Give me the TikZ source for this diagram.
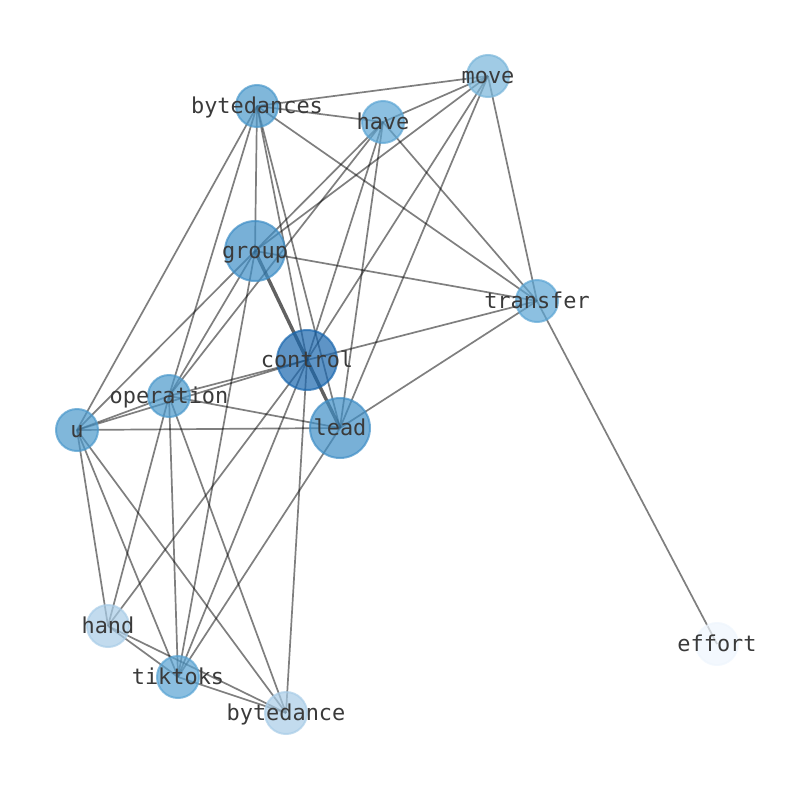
\documentclass[tikz,border=0pt]{standalone}
\usepackage{fontspec}
\newfontfamily\monofont{DejaVu Sans Mono}
\definecolor{cA}{HTML}{1A67AE}
\definecolor{cB}{HTML}{3F8EC6}
\definecolor{cC}{HTML}{4A98CB}
\definecolor{cD}{HTML}{58A3D3}
\definecolor{cE}{HTML}{5BA5D4}
\definecolor{cF}{HTML}{78B5DA}
\definecolor{cG}{HTML}{A8CCE7}
\definecolor{cH}{HTML}{EEF5FD}
\definecolor{edgegray}{HTML}{000000}
\definecolor{lblcol}{HTML}{3A3A3A}
\tikzset{
  edge/.style={draw=edgegray, draw opacity=0.5, line width=1.7pt},
  heavyedge/.style={draw=edgegray, draw opacity=0.62, line width=3.4pt},
  smallnode/.style={circle, inner sep=0pt, minimum size=42pt, line width=2pt, opacity=0.7},
  bignode/.style={circle, inner sep=0pt, minimum size=60pt, line width=2pt, opacity=0.7},
  lbl/.style={anchor=base, inner sep=0pt, text=lblcol, font=\monofont\fontsize{21.9}{26}\selectfont}
}
\begin{document}
\begin{tikzpicture}[x=1pt,y=-1pt]
\useasboundingbox (0,0) rectangle (794,790);
% positions
\coordinate (move) at (488,76);
\coordinate (bytedances) at (257,106);
\coordinate (have) at (383,122);
\coordinate (group) at (255,251);
\coordinate (transfer) at (537,301);
\coordinate (control) at (307,360);
\coordinate (operation) at (169,396);
\coordinate (u) at (77,430);
\coordinate (lead) at (340,428);
\coordinate (hand) at (108,626);
\coordinate (effort) at (717,644);
\coordinate (tiktoks) at (178,677);
\coordinate (bytedance) at (286,713);
% edges
\draw[edge] (bytedances) -- (move);
\draw[edge] (bytedances) -- (have);
\draw[edge] (bytedances) -- (transfer);
\draw[edge] (bytedances) -- (u);
\draw[edge] (bytedances) -- (operation);
\draw[edge] (bytedances) -- (group);
\draw[edge] (bytedances) -- (control);
\draw[edge] (bytedances) -- (lead);
\draw[edge] (move) -- (have);
\draw[edge] (move) -- (group);
\draw[edge] (move) -- (control);
\draw[edge] (move) -- (lead);
\draw[edge] (move) -- (transfer);
\draw[edge] (have) -- (group);
\draw[edge] (group) -- (u);
\draw[edge] (have) -- (operation);
\draw[edge] (have) -- (control);
\draw[edge] (have) -- (lead);
\draw[edge] (have) -- (transfer);
\draw[edge] (group) -- (transfer);
\draw[edge] (group) -- (operation);
\draw[edge] (group) -- (tiktoks);
\draw[edge] (transfer) -- (control);
\draw[edge] (transfer) -- (lead);
\draw[edge] (transfer) -- (effort);
\draw[edge] (control) -- (operation);
\draw[edge] (control) -- (u);
\draw[edge] (control) -- (hand);
\draw[edge] (control) -- (tiktoks);
\draw[edge] (control) -- (bytedance);
\draw[edge] (operation) -- (u);
\draw[edge] (operation) -- (lead);
\draw[edge] (operation) -- (hand);
\draw[edge] (operation) -- (tiktoks);
\draw[edge] (operation) -- (bytedance);
\draw[edge] (u) -- (lead);
\draw[edge] (u) -- (hand);
\draw[edge] (u) -- (tiktoks);
\draw[edge] (u) -- (bytedance);
\draw[edge] (lead) -- (tiktoks);
\draw[edge] (hand) -- (tiktoks);
\draw[edge] (hand) -- (bytedance);
\draw[edge] (tiktoks) -- (bytedance);
\draw[heavyedge] (group) -- (control);
\draw[heavyedge] (control) -- (lead);
% nodes
\node[smallnode, fill=cF, draw=cF] (n-move) at (move) {};
\node[smallnode, fill=cC, draw=cC] (n-bytedances) at (bytedances) {};
\node[smallnode, fill=cE, draw=cE] (n-have) at (have) {};
\node[bignode, fill=cB, draw=cB] (n-group) at (group) {};
\node[smallnode, fill=cE, draw=cE] (n-transfer) at (transfer) {};
\node[bignode, fill=cA, draw=cA] (n-control) at (control) {};
\node[smallnode, fill=cC, draw=cC] (n-operation) at (operation) {};
\node[smallnode, fill=cC, draw=cC] (n-u) at (u) {};
\node[bignode, fill=cB, draw=cB] (n-lead) at (lead) {};
\node[smallnode, fill=cG, draw=cG] (n-hand) at (hand) {};
\node[smallnode, fill=cH, draw=cH] (n-effort) at (effort) {};
\node[smallnode, fill=cD, draw=cD] (n-tiktoks) at (tiktoks) {};
\node[smallnode, fill=cG, draw=cG] (n-bytedance) at (bytedance) {};
% labels
\node[lbl] (t-move) at ([yshift=-7.5pt]move) {move};
\node[lbl] (t-bytedances) at ([yshift=-7.5pt]bytedances) {bytedances};
\node[lbl] (t-have) at ([yshift=-7.5pt]have) {have};
\node[lbl] (t-group) at ([yshift=-7.5pt]group) {group};
\node[lbl] (t-transfer) at ([yshift=-7.5pt]transfer) {transfer};
\node[lbl] (t-control) at ([yshift=-7.5pt]control) {control};
\node[lbl] (t-operation) at ([yshift=-7.5pt]operation) {operation};
\node[lbl] (t-u) at ([yshift=-7.5pt]u) {u};
\node[lbl] (t-lead) at ([yshift=-7.5pt]lead) {lead};
\node[lbl] (t-hand) at ([yshift=-7.5pt]hand) {hand};
\node[lbl] (t-effort) at ([yshift=-7.5pt]effort) {effort};
\node[lbl] (t-tiktoks) at ([yshift=-7.5pt]tiktoks) {tiktoks};
\node[lbl] (t-bytedance) at ([yshift=-7.5pt]bytedance) {bytedance};
\end{tikzpicture}
\end{document}
